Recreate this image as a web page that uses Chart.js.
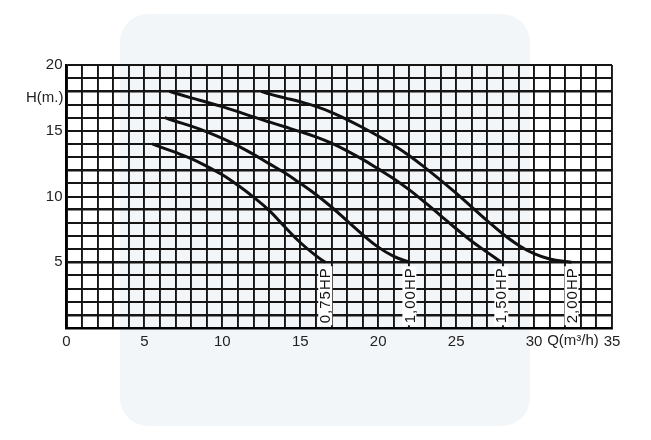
<!DOCTYPE html>
<html><head><meta charset="utf-8">
<script src="https://cdn.jsdelivr.net/npm/chart.js@4"></script>
<style>
html,body{margin:0;padding:0;background:#fff;}
#wrap{position:relative;width:651px;height:440px;overflow:hidden;}
#wm{position:absolute;left:120px;top:14px;width:410px;height:412px;border-radius:28px;background:#f3f6f9;}
canvas{position:absolute;left:0;top:0;}
</style>
</head><body>
<div id="wrap"><div id="wm"></div><canvas id="c" width="651" height="440"></canvas></div>
<script>
const seriesNames = ['0,75HP', '1,00HP', '1,50HP', '2,00HP'];

const q075 = [5.5, 6, 7, 8, 9, 10, 11, 12, 13, 14, 15, 16, 16.6];
const h075 = [14, 13.78, 13.35, 12.88, 12.3, 11.65, 10.85, 9.95, 8.95, 7.7, 6.5, 5.5, 5.0];

const q100 = [6.3, 7, 8, 9, 10, 11, 12, 13, 14, 15, 16, 17, 18, 19, 20, 21, 22];
const h100 = [16, 15.72, 15.35, 14.92, 14.42, 13.85, 13.2, 12.5, 11.8, 11.0, 10.15, 9.2, 8.15, 7.1, 6.15, 5.45, 5.0];

const q150 = [6.6, 7, 8, 9, 10, 11, 12, 13, 14, 15, 16, 17, 18, 19, 20, 21, 22, 23, 24, 25, 26, 27, 27.9];
const h150 = [18, 17.85, 17.5, 17.17, 16.83, 16.45, 16.05, 15.67, 15.3, 14.93, 14.53, 14.05, 13.47, 12.82, 12.1, 11.35, 10.5, 9.55, 8.55, 7.55, 6.6, 5.75, 5.0];

const q200 = [12.5, 13, 14, 15, 16, 17, 18, 19, 20, 21, 22, 23, 24, 25, 26, 27, 28, 29, 30, 31, 32.4];
const h200 = [18, 17.8, 17.5, 17.2, 16.85, 16.4, 15.85, 15.25, 14.6, 13.9, 13.1, 12.2, 11.25, 10.25, 9.2, 8.15, 7.15, 6.3, 5.65, 5.25, 5.0];

const xTickLabels = [0, 5, 10, 15, 20, 25, 30, 35];
const yTickLabels = [5, 10, 15, 20];
const xAxisTitle = 'Q(m\u00B3/h)';
const yAxisTitle = 'H(m.)';

const FONT = '"Liberation Sans", Arial, sans-serif';

function pts(xs, ys) { return xs.map((x, i) => ({ x: x, y: ys[i] })); }

const seriesData = [pts(q075, h075), pts(q100, h100), pts(q150, h150), pts(q200, h200)];

const labelPlugin = {
  id: 'labels',
  afterDatasetsDraw(chart) {
    const ctx = chart.ctx;
    const xs = chart.scales.x, ys = chart.scales.y;
    ctx.save();
    ctx.font = '15px ' + FONT;
    if ('letterSpacing' in ctx) ctx.letterSpacing = '1px';
    chart.data.datasets.forEach((ds, i) => {
      const last = ds.data[ds.data.length - 1];
      const px = xs.getPixelForValue(last.x);
      const py = ys.getPixelForValue(last.y) + 5;
      const w = ctx.measureText(seriesNames[i]).width;
      ctx.save();
      ctx.translate(px, py);
      ctx.rotate(-Math.PI / 2);
      ctx.fillStyle = '#fff';
      ctx.fillRect(-w - 2, -7, w + 3, 14);
      ctx.fillStyle = '#111';
      ctx.textAlign = 'right';
      ctx.textBaseline = 'middle';
      ctx.fillText(seriesNames[i], 0, 1);
      ctx.restore();
    });
    if ('letterSpacing' in ctx) ctx.letterSpacing = '0px';
    ctx.fillStyle = '#222';
    ctx.font = '15px ' + FONT;
    ctx.textAlign = 'right';
    ctx.textBaseline = 'middle';
    ctx.fillText(yAxisTitle, chart.chartArea.left - 3, ys.getPixelForValue(17.5));
    ctx.textAlign = 'center';
    ctx.textBaseline = 'top';
    ctx.fillText(xAxisTitle, xs.getPixelForValue(32.5), chart.chartArea.bottom + 5);
    ctx.restore();
  }
};

new Chart(document.getElementById('c'), {
  type: 'line',
  data: {
    datasets: seriesData.map((d, i) => ({
      label: seriesNames[i],
      data: d,
      borderColor: '#111',
      borderWidth: 3,
      pointRadius: 0,
      fill: false,
      tension: 0.4
    }))
  },
  options: {
    responsive: false,
    animation: false,
    layout: { padding: { top: 65, right: 39, left: 0, bottom: 0 } },
    plugins: { legend: { display: false }, tooltip: { enabled: false } },
    scales: {
      x: {
        type: 'linear', min: 0, max: 35,
        afterFit(s) { s.height = 112; },
        ticks: {
          stepSize: 1, autoSkip: false, maxRotation: 0, padding: 5,
          color: '#222', font: { size: 15, family: FONT },
          callback: v => xTickLabels.includes(v) ? String(v) : ''
        },
        grid: { color: '#151515', lineWidth: 1.9, drawTicks: false },
        border: { color: '#000', width: 2.5 }
      },
      y: {
        type: 'linear', min: 0, max: 20,
        afterFit(s) { s.width = 66.5; },
        ticks: {
          stepSize: 1, autoSkip: false, padding: 4,
          color: '#222', font: { size: 15, family: FONT },
          callback: v => yTickLabels.includes(v) ? String(v) : ''
        },
        grid: {
          color: '#151515', drawTicks: false,
          lineWidth: c => [18, 12, 9, 5, 1].includes(c.tick && c.tick.value) ? 2.6 : 1.9
        },
        border: { color: '#000', width: 2.5 }
      }
    }
  },
  plugins: [labelPlugin]
});
</script>
</body></html>
